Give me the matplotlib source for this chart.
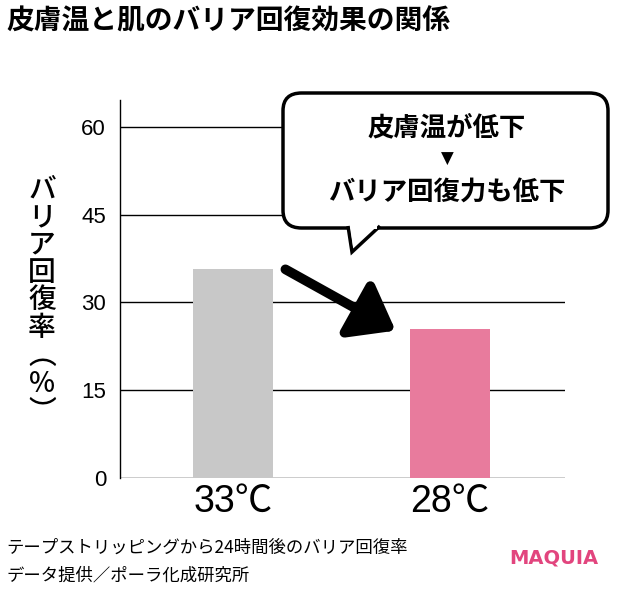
import matplotlib
matplotlib.use("Agg")
import matplotlib.pyplot as plt
from matplotlib.patches import FancyBboxPatch, Polygon, FancyArrowPatch

plt.rcParams['font.family'] = ['Noto Sans CJK JP', 'DejaVu Sans']

categories = ["33℃", "28℃"]
values = [35.7, 25.5]
colors = ["#c8c8c8", "#e87b9d"]
yticks = [0, 15, 30, 45, 60]

fig = plt.figure(figsize=(6.2, 5.9), dpi=100)
ax = fig.add_axes([120/620, 1-478/590, 445/620, 378/590])
ax.bar(range(len(values)), values, width=0.37, color=colors, zorder=3)
ax.set_xlim(-0.52, 1.53)
ax.set_ylim(0, 64.6)
ax.set_yticks(yticks)
ax.set_yticklabels([str(t) for t in yticks], fontsize=16, family=['Liberation Sans'])
ax.yaxis.grid(True, color='black', linewidth=1, zorder=0)
ax.tick_params(axis='y', length=0, pad=10)
ax.tick_params(axis='x', length=0, pad=4)
ax.set_xticks(range(len(values)))
ax.set_xticklabels(categories, fontsize=27, family=['Liberation Sans', 'Noto Sans CJK JP'])
for s in ['top', 'right', 'bottom']:
    ax.spines[s].set_visible(False)
ax.spines['left'].set_linewidth(1)

# vertical y-label
fig.text(42/620, 1-300/590, "\n".join("バリア回復率") + "\n︵\n%\n︶", fontsize=20,
         ha='center', va='center', linespacing=0.95, fontweight='medium')

fig.text(6/620, 1-22/590, "皮膚温と肌のバリア回復効果の関係", fontsize=20, fontweight='bold', va='center')
fig.text(6/620, 1-548/590, "テープストリッピングから24時間後のバリア回復率", fontsize=12.5, va='center')
fig.text(6/620, 1-576/590, "データ提供／ポーラ化成研究所", fontsize=12.5, va='center')
fig.text(598/620, 1-558/590, "MAQUIA", fontsize=14, fontweight='bold', color='#e2457e',
         ha='right', va='center', family=['DejaVu Sans'])

# speech bubble
W, H = 620, 590
def fx(x): return x / W
def fy(y): return 1 - y / H
box = FancyBboxPatch((fx(283), fy(228)), fx(608) - fx(283), fy(93) - fy(228),
                     boxstyle="round,pad=0,rounding_size=0.03", transform=fig.transFigure,
                     facecolor='white', edgecolor='black', linewidth=2.5, zorder=5)
fig.patches.append(box)
tail = Polygon([(fx(348), fy(226)), (fx(352), fy(252)), (fx(380), fy(226))], closed=False,
               transform=fig.transFigure, facecolor='white', edgecolor='black', linewidth=2.5, zorder=6)
fig.patches.append(tail)
cover = Polygon([(fx(350), fy(224)), (fx(353), fy(246)), (fx(377), fy(224)), (fx(377), fy(229)), (fx(350), fy(229))],
                transform=fig.transFigure, facecolor='white', edgecolor='none', zorder=7)
fig.patches.append(cover)
fig.text(fx(447), fy(128), "皮膚温が低下", fontsize=19, fontweight='bold', ha='center', va='center', zorder=8)
fig.text(fx(447), fy(159), "▼", fontsize=12, ha='center', va='center', zorder=8, family=['DejaVu Sans'])
fig.text(fx(447), fy(193), "バリア回復力も低下", fontsize=19, fontweight='bold', ha='center', va='center', zorder=8)

arrow = FancyArrowPatch((fx(283), fy(268)), (fx(398), fy(332)), transform=fig.transFigure,
                        arrowstyle="-|>,head_length=16,head_width=12", mutation_scale=1.6,
                        color='black', linewidth=7, zorder=9)
fig.patches.append(arrow)

fig.savefig("out.png", dpi=100)
